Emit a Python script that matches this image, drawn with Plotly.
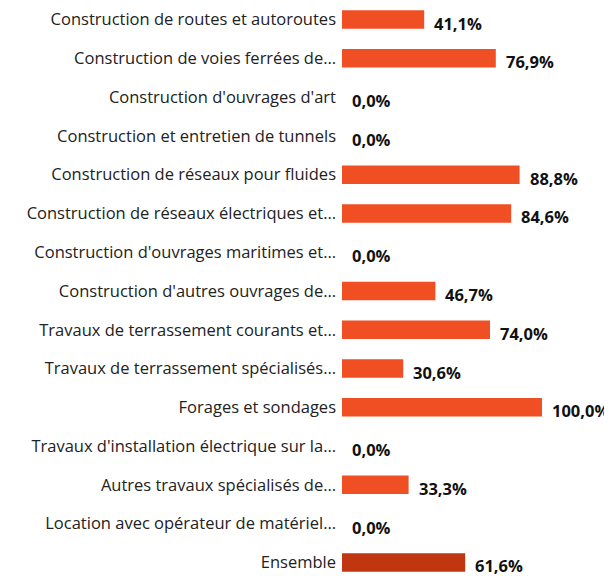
import plotly.graph_objects as go

categories = [
    "Construction de routes et autoroutes",
    "Construction de voies ferrées de…",
    "Construction d'ouvrages d'art",
    "Construction et entretien de tunnels",
    "Construction de réseaux pour fluides",
    "Construction de réseaux électriques et…",
    "Construction d'ouvrages maritimes et…",
    "Construction d'autres ouvrages de…",
    "Travaux de terrassement courants et…",
    "Travaux de terrassement spécialisés…",
    "Forages et sondages",
    "Travaux d'installation électrique sur la…",
    "Autres travaux spécialisés de…",
    "Location avec opérateur de matériel…",
    "Ensemble",
]
values = [41.1, 76.9, 0.0, 0.0, 88.8, 84.6, 0.0, 46.7, 74.0, 30.6, 100.0, 0.0, 33.3, 0.0, 61.6]
value_labels = [f"{v:.1f}%".replace(".", ",") for v in values]

positions = list(range(len(categories)))
colors = ["#F04E23"] * (len(categories) - 1) + ["#BF3610"]

# the page body has an 8px margin: the figure is drawn 8px right and down
W, H = 604, 568
ROW = 38.77
TOP = 11.6  # centre of the first row, figure pixels

fig = go.Figure()
fig.add_trace(go.Bar(
    x=values, y=positions, orientation="h",
    marker=dict(color=colors, line=dict(width=0)),
    width=18.5 / ROW, hoverinfo="skip",
))

for p, v, t in zip(positions, values, value_labels):
    fig.add_annotation(
        x=v, y=p, text=f"<b>{t}</b>", showarrow=False,
        xanchor="left", yanchor="middle", xshift=8, yshift=-3.5,
        font=dict(family="Open Sans", size=16.5, color="#111111"),
    )

fig.update_layout(
    width=W, height=H,
    margin=dict(l=334, r=0, t=0, b=0, autoexpand=False),
    paper_bgcolor="white", plot_bgcolor="white",
    showlegend=False,
    font=dict(family="Open Sans", size=17, color="#222222"),
)
fig.update_xaxes(range=[0, 135], visible=False)
fig.update_yaxes(
    tickvals=positions, ticktext=categories,
    range=[(H - TOP) / ROW, -TOP / ROW],
    showgrid=False, zeroline=False, showline=False, ticks="",
    ticklabelstandoff=5, automargin=False, ticklabeloverflow="allow",
    tickfont=dict(family="Open Sans", size=16.5, color="#222222"),
)

fig.write_html("out.html")
